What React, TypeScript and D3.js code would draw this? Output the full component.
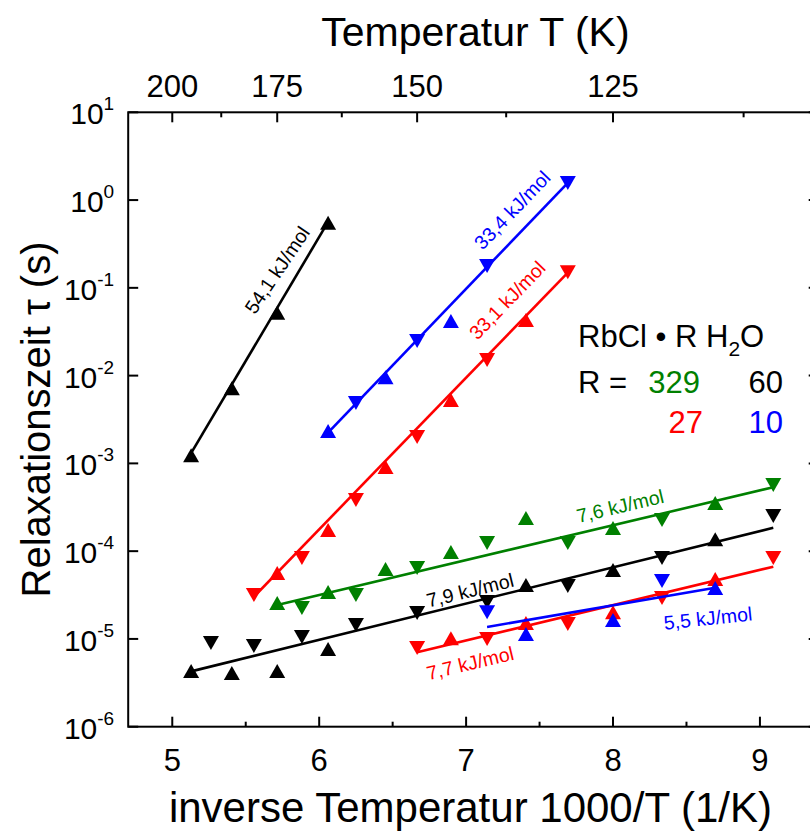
import React from 'react';
import * as d3 from 'd3';

// Measurement temperatures (K) and relaxation times tau (s) per sample.
// Marker: 'u' = upward triangle, 'd' = downward triangle.

// RbCl · 60 H2O, slow process
const r60SlowT = [195, 185, 175, 165];
const r60SlowTau = [1.24e-3, 7.2e-3, 5.2e-2, 0.55];
const r60SlowMark = ['u', 'u', 'u', 'u'];

// RbCl · 10 H2O, slow process
const r10SlowT = [165, 160, 155, 150, 145, 140, 130];
const r10SlowTau = [2.34e-3, 4.88e-3, 9.6e-3, 2.48e-2, 4.19e-2, 0.177, 1.56];
const r10SlowMark = ['u', 'd', 'u', 'd', 'u', 'd', 'd'];

// RbCl · 27 H2O, slow process
const r27SlowT = [180, 175, 170, 165, 160, 155, 150, 145, 140, 135, 130];
const r27SlowTau = [3.16e-5, 5.64e-5, 8.36e-5, 1.74e-4, 3.83e-4, 9.1e-4, 2.0e-3, 5.27e-3, 1.51e-2, 4.31e-2, 0.151];
const r27SlowMark = ['d', 'u', 'd', 'u', 'd', 'u', 'd', 'u', 'd', 'u', 'd'];

// RbCl · 329 H2O
const r329T = [175, 170, 165, 160, 155, 150, 145, 140, 135, 130, 125, 120, 115, 110];
const r329Tau = [2.56e-5, 2.25e-5, 3.42e-5, 3.16e-5, 6.27e-5, 6.43e-5, 9.77e-5, 1.24e-4, 2.39e-4, 1.24e-4, 1.84e-4, 2.26e-4, 3.54e-4, 5.68e-4];
const r329Mark = ['u', 'd', 'u', 'd', 'u', 'd', 'u', 'd', 'u', 'd', 'u', 'd', 'u', 'd'];

// RbCl · 60 H2O, fast process
const r60FastT = [195, 190, 185, 180, 175, 170, 165, 160, 150, 140, 135, 130, 125, 120, 115, 110];
const r60FastTau = [4.31e-6, 9.0e-6, 4.08e-6, 8.3e-6, 4.31e-6, 1.05e-5, 7.67e-6, 1.44e-5, 1.97e-5, 2.64e-5, 4.11e-5, 4.01e-5, 6.1e-5, 8.36e-5, 1.37e-4, 2.51e-4];
const r60FastMark = ['u', 'd', 'u', 'd', 'u', 'd', 'u', 'd', 'd', 'd', 'u', 'd', 'u', 'd', 'u', 'd'];

// RbCl · 27 H2O, fast process
const r27FastT = [150, 145, 140, 135, 130, 125, 120, 115, 110];
const r27FastTau = [7.87e-6, 1.02e-5, 9.98e-6, 1.52e-5, 1.48e-5, 2.02e-5, 2.92e-5, 4.82e-5, 8.36e-5];
const r27FastMark = ['d', 'u', 'd', 'u', 'd', 'u', 'd', 'u', 'd'];

// RbCl · 10 H2O, fast process
const r10FastT = [140, 135, 125, 120, 115];
const r10FastTau = [2.02e-5, 1.14e-5, 1.64e-5, 4.57e-5, 3.8e-5];
const r10FastMark = ['d', 'u', 'u', 'd', 'u'];

// Arrhenius fits: activation energy (kJ/mol), log10(tau0 / s), temperature range (K)
const fitEa = [7.6, 7.9, 54.1, 7.7, 33.1, 5.5, 33.4];
const fitLogTau0 = [-6.881, -7.486, -17.376, -7.833, -14.126, -6.916, -13.224];
const fitTRange = [[175, 110], [195, 110], [195, 165], [150, 110], [180, 130], [140, 115], [165, 130]];
const fitColor = ['#008000', '#000000', '#000000', '#ff0000', '#ff0000', '#0000ff', '#0000ff'];
// Label anchor (1000/T, tau) for each fit label
const fitLabelX = [8.048, 7.027, 5.713, 7.027, 7.279, 8.646, 7.313];
const fitLabelTau = [3.27e-4, 3.6e-5, 0.16, 5.32e-6, 7.26e-2, 1.73e-5, 0.771];
const fitLabelAngle = [null, null, -56, null, null, -6, null];

const bottomTicks = [5, 6, 7, 8, 9];
const bottomMinor = [5.5, 6.5, 7.5, 8.5];
const topTicksT = [200, 175, 150, 125];
const topMinorT = [187.5, 162.5, 137.5, 112.5];
const yExponents = [1, 0, -1, -2, -3, -4, -5, -6];

const GAS_R = 8.314;

const W = 810;
const H = 834;
const FONT = "'Liberation Sans', Arial, Helvetica, sans-serif";

const x = d3.scaleLinear().domain([4.7, 9.4]).range([128.2, 818.7]);
const y = d3.scaleLog().domain([1e-6, 1e1]).range([726.7, 112.3]);

const triangle = (dir: string) => ({
  draw(ctx: any, size: number) {
    const w = Math.sqrt(size);
    const h = w * 0.875;
    const s = dir === 'u' ? 1 : -1;
    ctx.moveTo(0, -s * h / 2);
    ctx.lineTo(w / 2, s * h / 2);
    ctx.lineTo(-w / 2, s * h / 2);
    ctx.closePath();
  },
});
const upPath = d3.symbol().type(triangle('u') as any).size(256)() as string;
const downPath = d3.symbol().type(triangle('d') as any).size(256)() as string;

type Series = { T: number[]; tau: number[]; mark: string[]; color: string };
const series: Series[] = [
  { T: r329T, tau: r329Tau, mark: r329Mark, color: '#008000' },
  { T: r60FastT, tau: r60FastTau, mark: r60FastMark, color: '#000000' },
  { T: r60SlowT, tau: r60SlowTau, mark: r60SlowMark, color: '#000000' },
  { T: r27FastT, tau: r27FastTau, mark: r27FastMark, color: '#ff0000' },
  { T: r27SlowT, tau: r27SlowTau, mark: r27SlowMark, color: '#ff0000' },
  { T: r10FastT, tau: r10FastTau, mark: r10FastMark, color: '#0000ff' },
  { T: r10SlowT, tau: r10SlowTau, mark: r10SlowMark, color: '#0000ff' },
];

// log10 tau on the Arrhenius line at inverse temperature u = 1000/T
const fitLog = (i: number, u: number) =>
  fitLogTau0[i] + (fitEa[i] * 1000 * u) / (1000 * GAS_R * Math.LN10);

function fitPath(i: number) {
  const [t0, t1] = fitTRange[i];
  const u0 = 1000 / t0;
  const u1 = 1000 / t1;
  const pts: [number, number][] = [
    [x(u0), y(Math.pow(10, fitLog(i, u0)))],
    [x(u1), y(Math.pow(10, fitLog(i, u1)))],
  ];
  return d3.line()(pts) as string;
}

function fitAngle(i: number) {
  if (fitLabelAngle[i] !== null) return fitLabelAngle[i] as number;
  const [t0, t1] = fitTRange[i];
  const u0 = 1000 / t0;
  const u1 = 1000 / t1;
  const dx = x(u1) - x(u0);
  const dy = y(Math.pow(10, fitLog(i, u1))) - y(Math.pow(10, fitLog(i, u0)));
  return (Math.atan2(dy, dx) * 180) / Math.PI;
}

const formatEa = (v: number) => v.toFixed(1).replace('.', ',') + ' kJ/mol';

export default function App() {
  const left = x.range()[0];
  const right = x.range()[1];
  const top = y.range()[1];
  const bottom = y.range()[0];
  const order = [0, 1, 2, 3, 4, 5, 6];
  return (
    <svg
      width={W}
      height={H}
      viewBox={`0 0 ${W} ${H}`}
      style={{ position: 'absolute', left: 0, top: 0, background: '#fff' }}
      fontFamily={FONT}
    >
      <rect x={0} y={0} width={W} height={H} fill="#fff" />

      {/* frame */}
      <rect x={left} y={top} width={right - left} height={bottom - top} fill="none" stroke="#000" strokeWidth={2} />

      {/* bottom axis */}
      {bottomTicks.map((v) => (
        <g key={'bt' + v}>
          <line x1={x(v)} x2={x(v)} y1={bottom} y2={bottom - 10} stroke="#000" strokeWidth={2} />
          <text x={x(v)} y={bottom + 44} textAnchor="middle" fontSize={31}>
            {v}
          </text>
        </g>
      ))}
      {bottomMinor.map((v) => (
        <line key={'bm' + v} x1={x(v)} x2={x(v)} y1={bottom} y2={bottom - 5} stroke="#000" strokeWidth={2} />
      ))}

      {/* top axis (temperature) */}
      {topTicksT.map((t) => (
        <g key={'tt' + t}>
          <line x1={x(1000 / t)} x2={x(1000 / t)} y1={top} y2={top + 10} stroke="#000" strokeWidth={2} />
          <text x={x(1000 / t)} y={top - 15} textAnchor="middle" fontSize={31}>
            {t}
          </text>
        </g>
      ))}
      {topMinorT.map((t) => (
        <line key={'tm' + t} x1={x(1000 / t)} x2={x(1000 / t)} y1={top} y2={top + 5} stroke="#000" strokeWidth={2} />
      ))}

      {/* left and right axis ticks */}
      {yExponents.map((e) => (
        <g key={'y' + e}>
          <line x1={left} x2={left + 10} y1={y(Math.pow(10, e))} y2={y(Math.pow(10, e))} stroke="#000" strokeWidth={2} />
          <line x1={right} x2={right - 10} y1={y(Math.pow(10, e))} y2={y(Math.pow(10, e))} stroke="#000" strokeWidth={2} />
          <text x={left - 14} y={y(Math.pow(10, e)) + 12} textAnchor="end" fontSize={30}>
            10
            <tspan fontSize={19} dy={-14}>
              {e < 0 ? '-' + Math.abs(e) : String(e)}
            </tspan>
          </text>
        </g>
      ))}

      {/* axis titles */}
      <text x={(left + right) / 2 - 3} y={822} textAnchor="middle" fontSize={42}>
        inverse Temperatur 1000/T (1/K)
      </text>
      <text x={(left + right) / 2 + 2} y={46} textAnchor="middle" fontSize={41}>
        Temperatur T (K)
      </text>
      <text transform={`translate(50, ${(top + bottom) / 2}) rotate(-90)`} textAnchor="middle" fontSize={40}>
        Relaxationszeit τ (s)
      </text>

      {/* fits and data, drawn per colour group */}
      {order.map((i) => (
        <g key={'s' + i}>
          <path d={fitPath(i)} stroke={fitColor[i]} strokeWidth={2.6} fill="none" />
          {series[i].T.map((t, k) => (
            <path
              key={k}
              d={series[i].mark[k] === 'u' ? upPath : downPath}
              transform={`translate(${x(1000 / t)}, ${y(series[i].tau[k])})`}
              fill={series[i].color}
            />
          ))}
        </g>
      ))}

      {/* activation energy labels */}
      {order.map((i) => (
        <text
          key={'l' + i}
          transform={`translate(${x(fitLabelX[i])}, ${y(fitLabelTau[i])}) rotate(${fitAngle(i)})`}
          textAnchor="middle"
          dominantBaseline="central"
          fontSize={19.5}
          fill={fitColor[i]}
        >
          {formatEa(fitEa[i])}
        </text>
      ))}

      {/* sample legend */}
      <g fontSize={31}>
        <text x={578} y={347}>
          RbCl • R H
          <tspan fontSize={21} dy={9}>
            2
          </tspan>
          <tspan dy={-9}>O</tspan>
        </text>
        <text x={578} y={393}>R =</text>
        <text x={700} y={393} textAnchor="end" fill="#008000">
          329
        </text>
        <text x={783} y={393} textAnchor="end" fill="#000000">
          60
        </text>
        <text x={703} y={433} textAnchor="end" fill="#ff0000">
          27
        </text>
        <text x={783} y={433} textAnchor="end" fill="#0000ff">
          10
        </text>
      </g>
    </svg>
  );
}
